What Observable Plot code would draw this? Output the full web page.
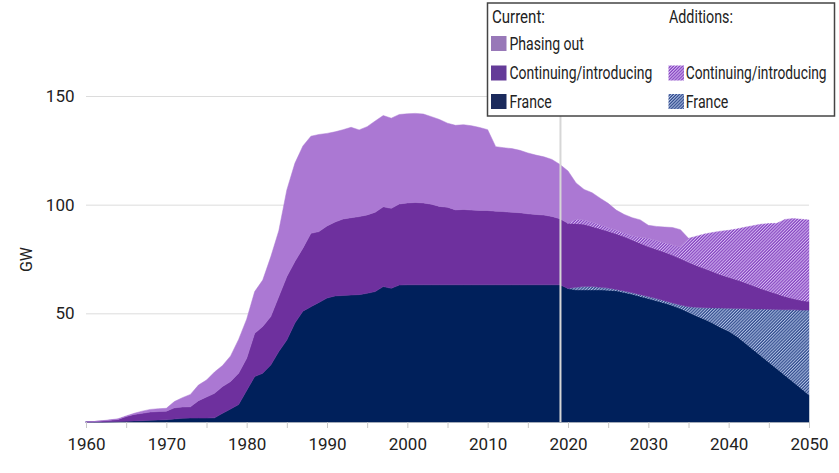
<!DOCTYPE html>
<html><head><meta charset="utf-8">
<script src="https://cdn.jsdelivr.net/npm/d3@7"></script>
<script src="https://cdn.jsdelivr.net/npm/@observablehq/plot@0.6"></script>
<style>
body{margin:0;background:#fff;}
#chart{width:839px;height:473px;}
</style></head><body><div id="chart"></div>
<script>
// ---- Data (GW) ----
const seriesNames = [
  "France (current)",
  "France (additions)",
  "Continuing/introducing (current)",
  "Continuing/introducing (additions)",
  "Phasing out (current)"
];
const seriesFills = ["#00205b", "url(#hatchNavy)", "#6e309e", "url(#hatchPurple)", "#ab78d3"];

const xTickMarks = [1960,1965,1970,1975,1980,1985,1990,1995,2000,2005,2010,2015,2020,2025,2030,2035,2040,2045,2050];
const xTickLabels = [1960,1970,1980,1990,2000,2010,2020,2030,2040,2050];
const yTicks = [50, 100, 150];
const cutoffYear = 2019;

// France, current fleet, 1960–2050
const franceCurrent = [
  0, 0, 0, 0.1, 0.2, 0.3, 0.5, 0.6, 0.8, 0.9,
  1.0, 1.4, 1.7, 1.8, 1.8, 1.8, 1.9, 4.0, 6.0, 8.0,
  14.5, 20.9, 22.4, 26.2, 32.4, 37.7, 45.5, 51, 53, 55,
  57, 58, 58.2, 58.4, 58.6, 59.2, 60, 62.3, 61.5, 63,
  63.1, 63.1, 63.1, 63.1, 63.1, 63.1, 63.1, 63.1, 63.1, 63.1,
  63.1, 63.1, 63.1, 63.1, 63.1, 63.1, 63.1, 63.1, 63.1, 63.1,
  61.4, 60.8, 60.8, 60.8, 60.8, 60.6, 60.4, 59.6, 58.8, 57.8,
  56.8, 55.8, 54.8, 53.6, 52.2, 50.5, 48.8, 47.3, 45.5, 43.5,
  41.8, 39.5, 36.5, 33.5, 30.5, 27.5, 24.5, 21.5, 18.5, 15.5,
  12.4
];
// Continuing/introducing countries, current fleet, 1960–2050
const continuingCurrent = [
  0, 0.2, 0.5, 0.7, 1.0, 2.2, 3.0, 3.4, 3.8, 3.9,
  4.0, 5.1, 5.2, 5.2, 8.0, 9.7, 11.3, 12.3, 12.6, 14.4,
  14.8, 19.9, 21.5, 22.3, 25.3, 29.2, 28.3, 29, 33.8, 32.6,
  33.2, 34, 35.2, 35.6, 35.9, 36.1, 36.5, 36.7, 36.8, 37.3,
  37.7, 37.9, 37.7, 37.1, 36.1, 35.7, 34.5, 34.7, 34.4, 34.2,
  34.2, 33.9, 33.7, 33.4, 33.2, 32.7, 32.4, 32.1, 31.5, 30.4,
  30.0, 29.3, 28.7, 27.7, 26.9, 26.2, 25.6, 25.0, 24.3, 23.6,
  23.0, 22.7, 22.4, 22.0, 21.4, 20.5, 19.2, 18.0, 16.7, 15.4,
  14.3, 13.3, 12.1, 10.8, 9.4, 8.3, 7.2, 6.1, 5.2, 4.5,
  3.9
];
// Phasing-out countries, current fleet, 1960–2035
const phasingOut = [
  0, 0, 0.1, 0.2, 0.3, 0.3, 0.5, 1.0, 1.2, 1.3,
  1.3, 2.9, 4.3, 5.7, 7.2, 7.8, 9.8, 9.7, 11.8, 15.6,
  18.0, 19.2, 21.4, 27.5, 30.3, 39.9, 45.2, 47, 44.7, 44.7,
  42.6, 41.5, 41.1, 41.6, 39.9, 40.6, 42, 42, 41.5, 41.2,
  41, 41, 40.9, 40.3, 40, 38.7, 38.9, 39, 38.8, 38.2,
  37.2, 29.7, 29.4, 29.3, 28.7, 28, 27.3, 26.8, 26.2, 25,
  24.1, 16.7, 14.0, 13.5, 12.2, 11.1, 9.2, 8.5, 8.2, 8.0,
  6.0, 6.5, 7.2, 8.0, 8.0, 0
];
// Additions, 2020–2050
const franceAdditions = [
  0, 1.2, 1.5, 1.5, 1.2, 1.0, 0.6, 0.7, 0.7, 0.8,
  0.9, 1.0, 1.0, 1.2, 1.6, 2.5, 4.0, 5.3, 7.0, 8.9,
  10.5, 12.7, 15.6, 18.5, 21.5, 24.4, 27.3, 30.2, 33.1, 36.0,
  39.1
];
const continuingAdditions = [
  0, 2.0, 2.0, 2.0, 1.9, 1.7, 1.7, 1.7, 2.0, 2.8,
  3.8, 4.0, 4.3, 4.7, 5.3, 11.0, 13.5, 15.9, 18.0, 20.0,
  21.6, 23.3, 25.4, 27.5, 29.6, 31.1, 32.4, 35.4, 36.8, 37.3,
  37.6
];

// ---- Build long table ----
const rows = [];
function addSeries(name, startYear, values) {
  values.forEach((v, i) => rows.push({series: name, year: startYear + i, value: v}));
}
addSeries(seriesNames[0], 1960, franceCurrent);
addSeries(seriesNames[1], 2020, franceAdditions);
addSeries(seriesNames[2], 1960, continuingCurrent);
addSeries(seriesNames[3], 2020, continuingAdditions);
addSeries(seriesNames[4], 1960, phasingOut);

const font = "Roboto, 'Noto Sans', sans-serif";

const svg = Plot.plot({
  width: 839, height: 473,
  marginLeft: 86, marginRight: 30, marginTop: 96, marginBottom: 51,
  style: {fontFamily: font, fontSize: "17px", color: "#222", background: "#fff"},
  x: {domain: [1960, 2050]},
  y: {domain: [0, 150]},
  color: {domain: seriesNames, range: seriesFills},
  marks: [
    Plot.gridY(yTicks, {stroke: "#dcdcdc", strokeOpacity: 1, strokeWidth: 1}),
    Plot.ruleY([0], {stroke: "#d8d8d8"}),
    Plot.areaY(rows, Plot.stackY({
      x: "year", y: "value", z: "series", fill: "series", stroke: "series",
      strokeWidth: 0.5, order: seriesNames
    })),
    Plot.ruleX([cutoffYear], {y1: 0, y2: 150, stroke: "#d6d6d6", strokeWidth: 2}),
    Plot.axisX({
      ticks: xTickMarks,
      tickFormat: d => xTickLabels.includes(d) ? String(d) : "",
      tickSize: 6, tickPadding: 9, stroke: "#c8c8c8", fill: "#222", fontSize: 17, label: null
    }),
    Plot.axisY({ticks: yTicks, tickSize: 0, tickPadding: 12, label: null, fill: "#222", fontSize: 17}),
    Plot.text(["GW"], {text: d => d, frameAnchor: "left", dx: -60, rotate: -90, textAnchor: "middle", fontSize: 16, fill: "#222"})
  ]
});
document.getElementById("chart").appendChild(svg);

// ---- Hatch patterns ----
const root = d3.select(svg);
const defs = root.insert("defs", ":first-child");
function hatch(id, bg, fg) {
  const p = defs.append("pattern").attr("id", id)
    .attr("patternUnits", "userSpaceOnUse").attr("width", 2.2).attr("height", 2.2)
    .attr("patternTransform", "rotate(45)");
  p.append("rect").attr("width", 2.2).attr("height", 2.2).attr("fill", bg);
  p.append("rect").attr("width", 1.0).attr("height", 2.2).attr("fill", fg);
}
hatch("hatchPurple", "#8644c0", "#d4b8f2");
hatch("hatchNavy", "#304a8c", "#aebfe3");

// ---- Legend (inside chart, top right) ----
const lg = root.append("g").attr("font-family", font).attr("font-size", 19)
  .attr("fill", "#222").attr("text-anchor", "start");
lg.append("rect").attr("x", 487.5).attr("y", 3).attr("width", 347).attr("height", 113)
  .attr("fill", "#fff").attr("stroke", "#444").attr("stroke-width", 1.5);
function ltext(x, y, s, width) {
  const t = lg.append("text").attr("x", 0).attr("y", 0).attr("text-anchor", "start").text(s);
  const natural = t.node().getComputedTextLength() || width;
  t.attr("transform", `translate(${x},${y}) scale(${width / natural},1)`);
}
function lswatch(x, y, fill) {
  lg.append("rect").attr("x", x).attr("y", y).attr("width", 15.5).attr("height", 15).attr("fill", fill);
}
ltext(492, 22.5, "Current:", 53);
ltext(669, 22.5, "Additions:", 64);
lswatch(491, 36, "#9878b8");   ltext(509.5, 50, "Phasing out", 74.5);
lswatch(491, 65.5, "#643b98"); ltext(509.5, 79.3, "Continuing/introducing", 143);
lswatch(491, 94, "#1b2a5c");   ltext(509.5, 108.3, "France", 42.3);
lswatch(668.5, 65.5, "url(#hatchPurple)"); ltext(685.7, 79.3, "Continuing/introducing", 141);
lswatch(668.5, 94, "url(#hatchNavy)");     ltext(685.7, 108.3, "France", 42.7);
</script>
</body></html>
